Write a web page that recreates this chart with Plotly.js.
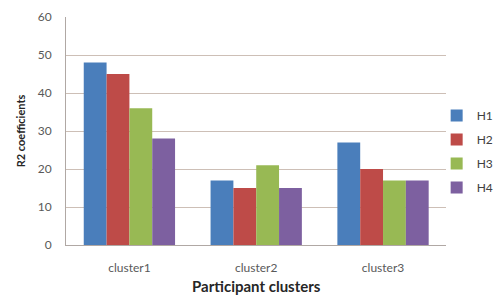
<!DOCTYPE html>
<html>
<head>
<meta charset="utf-8">
<script src="https://cdn.plot.ly/plotly-3.0.1.min.js"></script>
<style>html,body{margin:0;padding:0;background:#fff;}#chart{width:499px;height:295px;}</style>
</head>
<body>
<div id="chart"></div>
<script>
const categories = ["cluster1", "cluster2", "cluster3"];
const seriesNames = ["H1", "H2", "H3", "H4"];
const H1 = [48, 17, 27];
const H2 = [45, 15, 20];
const H3 = [36, 21, 17];
const H4 = [28, 15, 17];
const seriesValues = [H1, H2, H3, H4];
const colors = ["#4a7ebb", "#be4b48", "#98b954", "#7d60a0"];

const traces = seriesNames.map((name, i) => ({
  type: "bar",
  name: name,
  x: categories,
  y: seriesValues[i],
  marker: {color: colors[i]},
  legendgroup: name
}));

const layout = {
  width: 499, height: 295,
  margin: {l: 66, r: 0, t: 17, b: 50},
  paper_bgcolor: "#fff", plot_bgcolor: "#fff",
  font: {family: "Lato, 'Open Sans', sans-serif", color: "#595959", size: 12},
  barmode: "group", bargap: 0.28, bargroupgap: 0,
  showlegend: true,
  legend: {x: 0.864, xanchor: "left", y: 0.41, yanchor: "middle",
           font: {size: 12, color: "#404040"}, tracegroupgap: 5,
           itemwidth: 30, bgcolor: "rgba(0,0,0,0)"},
  xaxis: {
    domain: [0, 0.8868],
    showgrid: false, showline: true, linecolor: "#b0a8a4", linewidth: 1,
    ticks: "", ticklabelstandoff: 12,
    tickfont: {size: 12, color: "#595959"},
    title: {text: "Participant clusters", font: {size: 15, color: "#262626", weight: "bold"}, standoff: 8}
  },
  yaxis: {
    range: [0, 60], dtick: 10, showgrid: true, gridcolor: "#cdbfb6",
    showline: true, linecolor: "#b0a8a4", zeroline: false,
    ticks: "", ticklabelstandoff: 11,
    tickfont: {size: 12, color: "#595959"},
    title: {text: "R2 coefficients", font: {size: 11, color: "#262626", weight: "bold"}, standoff: 9}
  }
};

Plotly.newPlot("chart", traces, layout, {displayModeBar: false, staticPlot: true});
</script>
</body>
</html>
